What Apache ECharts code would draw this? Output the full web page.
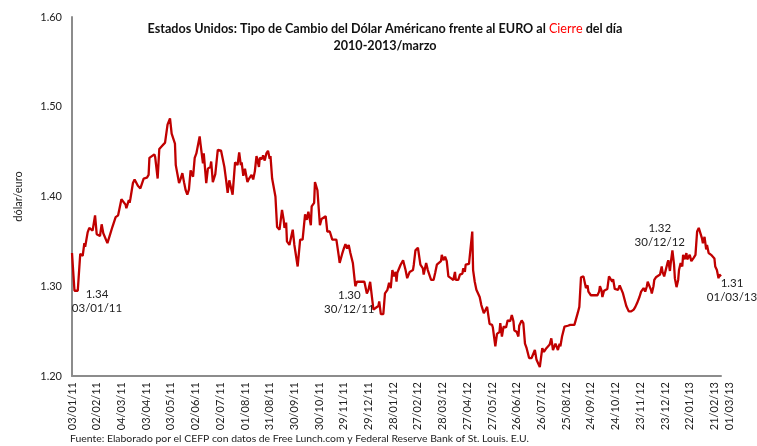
<!DOCTYPE html>
<html>
<head>
<meta charset="utf-8">
<script src="https://cdn.jsdelivr.net/npm/echarts@6/dist/echarts.min.js"></script>
<style>
  html, body { margin: 0; padding: 0; background: #fff; }
  #chart { width: 757px; height: 446px; }
</style>
</head>
<body>
<div id="chart"></div>
<script>
// days counted from 03/01/11
const startDate = Date.UTC(2011, 0, 3)
const lastDay = 788

const days = [
  0, 3, 7, 10, 13, 15, 16, 19, 21, 23, 25, 28, 30, 34, 36, 38, 40, 43, 46, 49,
  51, 53, 56, 60, 62, 65, 66, 69, 70, 71, 74, 76, 78, 80, 83, 85, 87, 91, 93, 94,
  96, 100, 101, 104, 106, 109, 113, 116, 119, 120, 121, 125, 126, 127, 130, 132, 134, 136, 138, 140,
  142, 144, 147, 149, 151, 155, 156, 159, 160, 163, 165, 168, 169, 171, 174, 177, 181, 185, 187, 189,
  191, 193, 195, 198, 201, 203, 205, 206, 208, 210, 213, 215, 218, 220, 222, 224, 227, 228, 231, 232,
  234, 236, 238, 240, 241, 243, 245, 247, 249, 252, 255, 257, 258, 260, 261, 264, 268, 270, 274, 277,
  280, 283, 285, 287, 290, 291, 294, 295, 298, 301, 303, 305, 308, 310, 313, 316, 321, 324, 325, 328,
  330, 332, 334, 336, 338, 341, 344, 346, 350, 352, 355, 357, 358, 360, 362, 364, 366, 369, 372, 373,
  375, 378, 380, 383, 385, 387, 389, 391, 393, 394, 395, 399, 402, 405, 407, 410, 414, 415, 417, 420,
  423, 426, 427, 430, 432, 436, 439, 441, 443, 445, 448, 449, 451, 453, 455, 457, 460, 463, 465, 466,
  469, 471, 474, 475, 477, 478, 480, 482, 484, 486, 487, 489, 491, 495, 497, 500, 502, 504, 507, 510,
  511, 514, 516, 519, 520, 522, 524, 527, 529, 532, 534, 536, 537, 540, 542, 543, 546, 548, 550, 552,
  555, 558, 560, 562, 564, 566, 568, 571, 573, 576, 578, 580, 582, 584, 585, 587, 589, 590, 592, 593,
  595, 598, 600, 602, 605, 607, 610, 612, 614, 616, 618, 621, 622, 624, 626, 627, 630, 632, 634, 636,
  638, 640, 641, 643, 644, 646, 648, 650, 652, 656, 657, 659, 661, 663, 665, 667, 669, 671, 673, 676,
  679, 682, 684, 686, 689, 691, 693, 694, 696, 698, 699, 701, 703, 704, 706, 707, 709, 711, 714, 716,
  717, 719, 720, 723, 724, 726, 727, 729, 731, 732, 734, 736, 737, 739, 741, 742, 744, 746, 747, 749,
  750, 752, 754, 755, 757, 759, 761, 763, 765, 766, 768, 770, 771, 773, 775, 776, 778, 780, 781, 783,
  785, 786, 788
]

const rates = [
  1.337, 1.295, 1.295, 1.336, 1.334, 1.348, 1.344, 1.360, 1.365, 1.366, 1.362, 1.379, 1.358, 1.356, 1.369, 1.359, 1.357, 1.348, 1.357, 1.366,
  1.368, 1.377, 1.379, 1.397, 1.396, 1.391, 1.387, 1.396, 1.393, 1.398, 1.415, 1.419, 1.420, 1.412, 1.409, 1.410, 1.420, 1.421, 1.424, 1.443,
  1.444, 1.447, 1.444, 1.420, 1.453, 1.456, 1.460, 1.480, 1.487, 1.485, 1.470, 1.459, 1.435, 1.437, 1.415, 1.420, 1.426, 1.416, 1.407, 1.402,
  1.408, 1.429, 1.422, 1.443, 1.448, 1.467, 1.459, 1.437, 1.448, 1.415, 1.431, 1.433, 1.439, 1.416, 1.425, 1.452, 1.451, 1.433, 1.419, 1.404,
  1.418, 1.410, 1.402, 1.438, 1.435, 1.449, 1.435, 1.438, 1.423, 1.431, 1.416, 1.420, 1.424, 1.419, 1.428, 1.445, 1.433, 1.443, 1.442, 1.446,
  1.440, 1.448, 1.451, 1.442, 1.445, 1.420, 1.420, 1.400, 1.366, 1.363, 1.385, 1.374, 1.365, 1.371, 1.350, 1.346, 1.363, 1.346, 1.322, 1.352,
  1.352, 1.380, 1.374, 1.383, 1.368, 1.389, 1.393, 1.416, 1.407, 1.368, 1.375, 1.373, 1.378, 1.361, 1.361, 1.352, 1.352, 1.333, 1.326, 1.336,
  1.342, 1.347, 1.342, 1.346, 1.337, 1.326, 1.300, 1.305, 1.305, 1.307, 1.305, 1.307, 1.292, 1.296, 1.305, 1.306, 1.274, 1.276, 1.278, 1.283,
  1.269, 1.269, 1.292, 1.296, 1.304, 1.298, 1.318, 1.311, 1.316, 1.305, 1.315, 1.324, 1.329, 1.318, 1.309, 1.316, 1.318, 1.324, 1.340, 1.343,
  1.324, 1.320, 1.313, 1.326, 1.318, 1.307, 1.307, 1.315, 1.324, 1.324, 1.328, 1.335, 1.329, 1.333, 1.328, 1.311, 1.309, 1.307, 1.316, 1.307,
  1.307, 1.313, 1.314, 1.320, 1.316, 1.324, 1.322, 1.325, 1.327, 1.361, 1.318, 1.305, 1.296, 1.288, 1.279, 1.270, 1.272, 1.277, 1.258, 1.257,
  1.254, 1.233, 1.247, 1.249, 1.259, 1.244, 1.255, 1.254, 1.262, 1.261, 1.268, 1.261, 1.251, 1.249, 1.244, 1.256, 1.262, 1.259, 1.236, 1.231,
  1.220, 1.220, 1.218, 1.229, 1.218, 1.220, 1.210, 1.231, 1.227, 1.231, 1.229, 1.235, 1.242, 1.229, 1.227, 1.236, 1.235, 1.229, 1.236, 1.233,
  1.244, 1.255, 1.253, 1.256, 1.257, 1.259, 1.257, 1.256, 1.270, 1.277, 1.310, 1.311, 1.310, 1.298, 1.301, 1.294, 1.290, 1.288, 1.290, 1.291,
  1.290, 1.294, 1.300, 1.295, 1.288, 1.295, 1.297, 1.297, 1.311, 1.305, 1.308, 1.297, 1.299, 1.296, 1.301, 1.299, 1.292, 1.285, 1.278, 1.272,
  1.272, 1.274, 1.277, 1.281, 1.288, 1.294, 1.296, 1.298, 1.294, 1.300, 1.305, 1.307, 1.296, 1.292, 1.300, 1.307, 1.310, 1.309, 1.313, 1.322,
  1.316, 1.311, 1.312, 1.326, 1.329, 1.317, 1.326, 1.340, 1.324, 1.309, 1.299, 1.307, 1.318, 1.326, 1.322, 1.335, 1.330, 1.337, 1.330, 1.329,
  1.335, 1.328, 1.326, 1.332, 1.335, 1.361, 1.365, 1.365, 1.353, 1.348, 1.355, 1.341, 1.346, 1.337, 1.335, 1.335, 1.333, 1.331, 1.322, 1.318,
  1.309, 1.313, 1.311
]

// annotated points
const noteDays = [0, 361, 727, 788]
const noteTexts = ['1.34\n03/01/11', '1.30\n30/12/11', '1.32\n30/12/12', '1.31\n01/03/13']
const noteOffsets = [[25, 48], [-20, 16], [-11, -28], [11, 14]]

const pad = (n) => (n < 10 ? '0' : '') + n
const dayLabel = (d) => {
  const dt = new Date(startDate + d * 86400000)
  return pad(dt.getUTCDate()) + '/' + pad(dt.getUTCMonth() + 1) + '/' + String(dt.getUTCFullYear()).slice(2)
}

const rateAt = (d) => rates[days.indexOf(d)] !== undefined ? rates[days.indexOf(d)] : 1.30

const font = 'Lato, "Noto Sans", sans-serif'

const myChart = echarts.init(document.getElementById('chart'), null, { renderer: 'canvas' })

const option = {
  animation: false,
  title: [
    {
      text: 'Estados Unidos: Tipo de Cambio del Dólar Américano frente al EURO al {r|Cierre} del día\n2010-2013/marzo',
      left: 385,
      textAlign: 'center',
      top: 20,
      padding: 0,
      textStyle: {
        fontFamily: font,
        fontSize: 12.6,
        fontWeight: 'bold',
        color: '#111',
        lineHeight: 17,
        rich: {
          r: { fontFamily: font, fontSize: 12.6, fontWeight: 'normal', color: '#ff0000', lineHeight: 17 },
        },
      },
    },
    {
      text: 'Fuente: Elaborado por el CEFP con datos de Free Lunch.com y Federal Reserve Bank of St. Louis. E.U.',
      left: 70,
      top: 434,
      padding: 0,
      textStyle: { fontFamily: font, fontSize: 10.4, fontWeight: 'normal', color: '#222' },
    },
  ],
  grid: { left: 72, right: 36, top: 17, bottom: 70 },
  xAxis: {
    type: 'value',
    min: 0,
    max: lastDay,
    interval: 30,
    splitLine: { show: false },
    axisTick: { show: false },
    axisLine: { show: true, onZero: false, lineStyle: { color: '#8c8c8c', width: 2 } },
    axisLabel: {
      rotate: 90,
      margin: 6,
      showMaxLabel: true,
      showMinLabel: true,
      fontFamily: font,
      fontSize: 11,
      color: '#222',
      formatter: (v) => (v === lastDay ? '{last|' + dayLabel(v) + '}' : dayLabel(v)),
      rich: {
        last: { fontFamily: font, fontSize: 11, color: '#222', padding: [16, 0, 0, 0] },
      },
    },
  },
  yAxis: {
    type: 'value',
    min: 1.2,
    max: 1.6,
    interval: 0.1,
    name: 'dólar/euro',
    nameLocation: 'middle',
    nameGap: 48,
    nameTextStyle: { fontFamily: font, fontSize: 11, color: '#222' },
    splitLine: { show: false },
    axisTick: { show: false },
    axisLine: { show: true, lineStyle: { color: '#8c8c8c', width: 2 } },
    axisLabel: {
      margin: 10,
      fontFamily: font,
      fontSize: 11,
      color: '#222',
      formatter: (v) => v.toFixed(2),
    },
  },
  series: [
    {
      name: 'Cierre',
      type: 'line',
      showSymbol: false,
      symbol: 'none',
      data: days.map((d, i) => [d, rates[i]]),
      lineStyle: { color: '#c00000', width: 2.3 },
      itemStyle: { color: '#c00000' },
      markPoint: {
        symbol: 'circle',
        symbolSize: 0,
        silent: true,
        data: noteDays.map((d, i) => ({
          name: noteTexts[i],
          coord: [d, rateAt(d)],
          label: {
            show: true,
            position: 'inside',
            offset: noteOffsets[i],
            formatter: '{b}',
            fontFamily: font,
            fontSize: 11.5,
            lineHeight: 14,
            color: '#222',
            align: 'center',
          },
        })),
      },
    },
  ],
}

option && myChart.setOption(option)
</script>
</body>
</html>
